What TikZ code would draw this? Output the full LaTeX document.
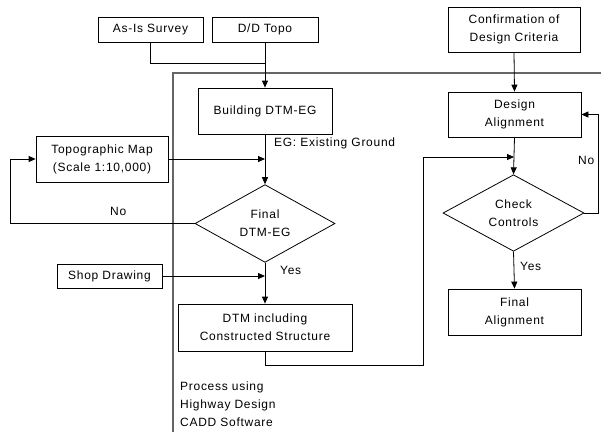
\documentclass[tikz,border=0pt]{standalone}
\usepackage{fontspec}
\setmainfont{Liberation Sans}[LetterSpace=6]
\usetikzlibrary{shapes.geometric,arrows.meta}
\begin{document}
\begin{tikzpicture}[x=1pt,y=-1pt,
  font=\fontsize{12}{18}\selectfont,
  box/.style={draw=black,line width=0.8pt,rectangle,inner sep=0pt,align=center},
  dia/.style={draw=black,line width=0.8pt,diamond,inner sep=0pt,align=center},
  conn/.style={draw=black,line width=0.8pt},
  arr/.style={conn,-{Triangle[length=7pt,width=6pt]}},
  lbl/.style={inner sep=0pt,anchor=west}]
\useasboundingbox (0,0) rectangle (601,432);
% frame
\draw[gray!80!black,line width=1.1pt] (601,73) -- (173,73) -- (173,432);
% nodes
\node[box,minimum width=105pt,minimum height=25pt] (asis) at (150.5,29.5) {As-Is Survey};
\node[box,minimum width=106pt,minimum height=25pt] (ddtopo) at (265,29.5) {D/D Topo};
\node[box,minimum width=132pt,minimum height=45pt] (confirm) at (514,29.5) {Confirmation of\\Design Criteria};
\node[box,minimum width=134pt,minimum height=46pt] (build) at (265,111) {Building DTM-EG};
\node[box,minimum width=133pt,minimum height=45pt] (design) at (514.5,114.5) {Design\\Alignment};
\node[box,minimum width=132pt,minimum height=46pt] (topo) at (102,159) {Topographic Map\\(Scale 1:10,000)};
\node[dia,minimum width=140pt,minimum height=67pt] (final) at (265,223.5) {Final\\DTM-EG};
\node[dia,minimum width=141pt,minimum height=68pt] (check) at (513.5,213) {Check\\Controls};
\node[box,minimum width=105pt,minimum height=24pt] (shop) at (109.5,276) {Shop Drawing};
\node[box,minimum width=174pt,minimum height=47pt] (dtminc) at (265,327.5) {DTM including\\Constructed Structure};
\node[box,minimum width=133pt,minimum height=46pt] (finalal) at (514.5,312) {Final\\Alignment};
% labels
\node[lbl] (eg) at (274,143) {EG: Existing Ground};
\node[lbl] (no1) at (110,211) {No};
\node[lbl] (no2) at (578,160) {No};
\node[lbl] (yes1) at (280,270) {Yes};
\node[lbl] (yes2) at (520,266) {Yes};
\node[lbl,align=left,anchor=north west] (proc) at (180,382) {Process using\\Highway Design\\CADD Software};
% coordinates
\coordinate (ja) at (265,63);
\coordinate (lx) at (10,223.5);
\coordinate (c1) at (423,365);
\coordinate (c2) at (514,157);
\coordinate (rx) at (598,213);
% connectors
\draw[conn] (asis.south) |- (ja);
\draw[arr] (ddtopo.south) -- (build.north);
\draw[arr] (topo.east) -- (topo.east -| build.south);
\draw[arr] (build.south) -- (final.north);
\draw[arr] (final.west) -- (lx) |- (topo.west);
\draw[arr] (shop.east) -- (shop.east -| final.south);
\draw[arr] (final.south) -- (dtminc.north);
\draw[arr] (dtminc.south) |- (c1) |- (c2);
\draw[arr] (confirm.south) -- (design.north);
\draw[arr] (design.south) -- (check.north);
\draw[arr] (check.east) -- (rx) |- (design.east);
\draw[arr] (check.south) -- (finalal.north);
\end{tikzpicture}
\end{document}
